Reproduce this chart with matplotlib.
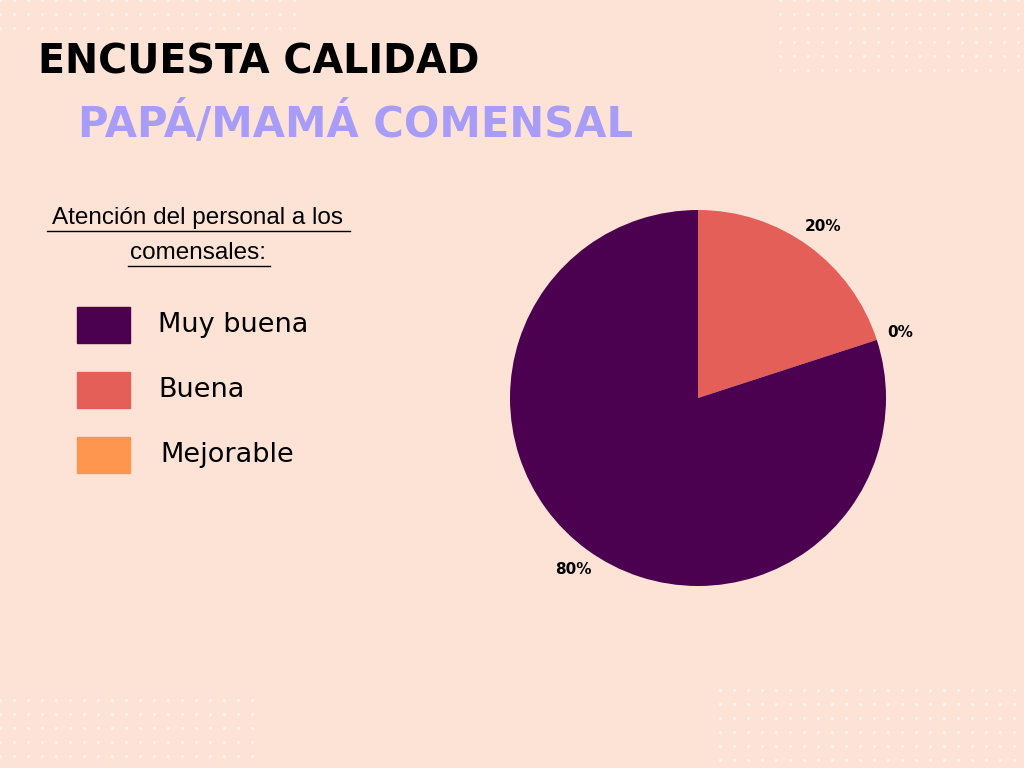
import matplotlib.pyplot as plt
from matplotlib.patches import Rectangle
import numpy as np

# data
categories = ["Buena", "Mejorable", "Muy buena"]
shares = [20, 0, 80]
colors = ["#E45F58", "#FF9650", "#4B0050"]
legend_labels = ["Muy buena", "Buena", "Mejorable"]
legend_colors = ["#4B0050", "#E45F58", "#FF9650"]

bg = "#FDE3D6"
fig = plt.figure(figsize=(10.24, 7.68), dpi=100, facecolor=bg)

# decorative dots in the corners
deco = fig.add_axes([0, 0, 1, 1])
deco.set_xlim(0, 1024)
deco.set_ylim(768, 0)
deco.axis("off")
for x0, y0, xr, yr in [(780, 0, 244, 80), (0, 0, 300, 40), (720, 690, 304, 78), (0, 700, 260, 68)]:
    xs, ys = np.meshgrid(np.arange(x0, x0 + xr, 14), np.arange(y0, y0 + yr, 14))
    deco.scatter(xs.ravel(), ys.ravel(), s=6, color="white", alpha=0.5, lw=0)

fig.text(38 / 1024, 1 - 62 / 768, "ENCUESTA CALIDAD", fontsize=28.5, fontweight="bold",
         color="black", va="center", ha="left")
fig.text(78 / 1024, 1 - 124 / 768, "PAPÁ/MAMÁ COMENSAL", fontsize=30, fontweight="bold",
         color="#A79CF7", va="center", ha="left")

fig.text(198 / 1024, 1 - 218 / 768, "Atención del personal a los", fontsize=17.5,
         ha="center", va="center", family="Liberation Sans")
fig.text(198 / 1024, 1 - 253 / 768, "comensales:", fontsize=17.5,
         ha="center", va="center", family="Liberation Sans")
deco.plot([47, 350], [231, 231], color="black", lw=1)
deco.plot([128, 270], [266, 266], color="black", lw=1)

for i, (lab, col) in enumerate(zip(legend_labels, legend_colors)):
    y = 325 + i * 65
    deco.add_patch(Rectangle((77, y - 18), 53, 36, color=col))
    deco.text(158 + (2 if i == 2 else 0), y, lab, fontsize=19.5, va="center", ha="left")

ax = fig.add_axes([510 / 1024, 1 - 586 / 768, 376 / 1024, 376 / 768])
wedges, texts, autotexts = ax.pie(shares, colors=colors, startangle=90, counterclock=False,
                                  autopct="%d%%", pctdistance=1.13,
                                  wedgeprops=dict(linewidth=0))
for t in autotexts:
    t.set_fontsize(11)
    t.set_fontweight("bold")
ax.set_xlim(-1, 1)
ax.set_ylim(-1, 1)
ax.set_aspect("equal")

fig.savefig("out.png", dpi=100, facecolor=bg)
